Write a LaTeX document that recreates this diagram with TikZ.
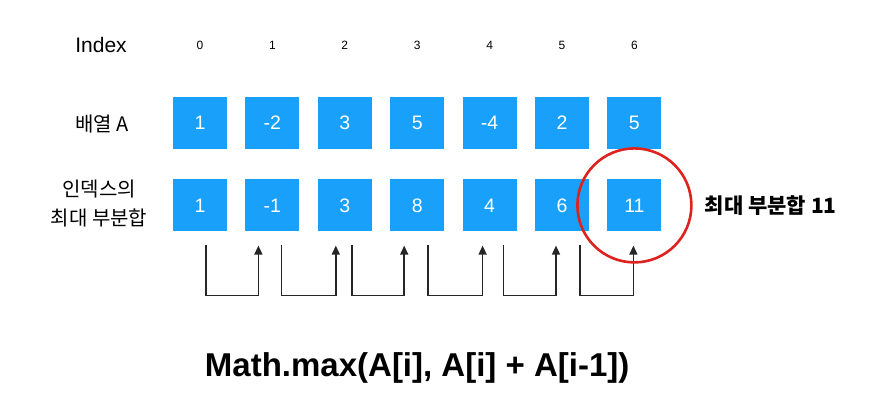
\documentclass[tikz,border=0pt]{standalone}
\usepackage{fontspec}
\setmainfont{Liberation Sans}
\newfontfamily\kor{Noto Sans CJK KR}
\usepackage{tikz}
\usetikzlibrary{positioning, arrows.meta, calc}
\definecolor{cellblue}{RGB}{24,160,250}
\definecolor{markred}{RGB}{222,34,30}

\begin{document}
\begin{tikzpicture}[x=1pt,y=-1pt,>={Triangle[length=9pt,width=8pt]},node distance=18pt,
            cell/.style={fill=cellblue,text=white,minimum width=54pt,
              minimum height=52pt,inner sep=0pt,font=\fontsize{19.5}{19.5}\selectfont},
            idx/.style={font=\fontsize{12}{12}\selectfont},
            rowlbl/.style={font=\kor\fontsize{20}{29}\selectfont,align=center},
            carry/.style={->,line width=1.5pt,black!85}]
            \useasboundingbox (0,0) rectangle (872,412);

            % array A
            \node[cell] (a0) at (200,123) {1};
            \node[cell] (a1) [right=of a0] {-2};
            \node[cell] (a2) [right=of a1] {3};
            \node[cell] (a3) [right=of a2] {5};
            \node[cell] (a4) [right=of a3] {-4};
            \node[cell] (a5) [right=of a4] {2};
            \node[cell] (a6) [right=of a5] {5};

            % max partial sums
            \node[cell] (b0) [below=30pt of a0] {1};
            \node[cell] (b1) [right=of b0] {-1};
            \node[cell] (b2) [right=of b1] {3};
            \node[cell] (b3) [right=of b2] {8};
            \node[cell] (b4) [right=of b3] {4};
            \node[cell] (b5) [right=of b4] {6};
            \node[cell] (b6) [right=of b5] {11};

            % index numbers
            \foreach \i in {0,...,6}
              \node[idx] (i\i) at (a\i |- 0,45) {\i};

            \node[font=\fontsize{21}{21}\selectfont] (idxlbl) at (101,45) {Index};
            \node[rowlbl] (albl) at (102,124) {배열 A};
            \node[rowlbl] (blbl) at (99,204) {인덱스의\\최대 부분합};

            % carry arrows
            \foreach \p/\q/\l/\r in {b0/b1/6/-14, b1/b2/9/-9, b2/b3/7/-13,
                                     b3/b4/11/-7, b4/b5/14/-6, b5/b6/18/-1}
              \draw[carry] ($(\p.south)+(\l,13)$) |- ($(\q.south)+(\r,64)$)
                -- ($(\q.south)+(\r,14)$);

            \draw[markred,line width=2.6pt] (b6) circle (57pt);
            \node[font=\kor\bfseries\fontsize{21}{21}\selectfont,inner sep=0pt]
              (maxlbl) [right=43pt of b6] {최대 부분합 11};

            \node[font=\bfseries\fontsize{33}{33}\selectfont] (formula)
              at (b3 |- 0,368) {Math.max(A[i], A[i] + A[i-1])};
\end{tikzpicture}
\end{document}
